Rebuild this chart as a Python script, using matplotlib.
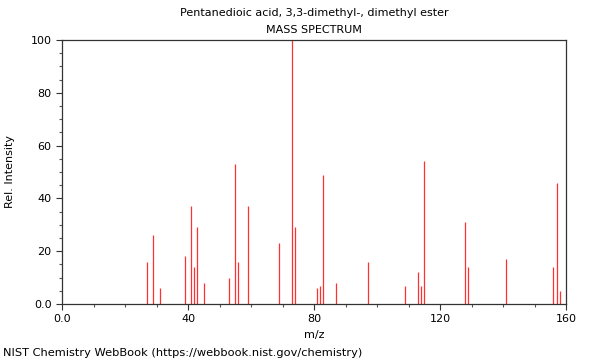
import numpy as np
import matplotlib
matplotlib.use('Agg')
import matplotlib.pyplot as plt
from matplotlib.ticker import MultipleLocator, FormatStrFormatter

# peaks
mz = [27, 29, 31, 39, 41, 42, 43, 45, 53, 55, 56, 59, 69, 73, 74,
      81, 82, 83, 87, 97, 109, 113, 114, 115, 128, 129, 141, 156, 157, 158]
intensity = [16, 26, 6, 18, 37, 14, 29, 8, 10, 53, 16, 37, 23, 100, 29,
             6, 7, 49, 8, 16, 7, 12, 7, 54, 31, 14, 17, 14, 46, 5]

title1 = 'Pentanedioic acid, 3,3-dimethyl-, dimethyl ester'
title2 = 'MASS SPECTRUM'
footer = 'NIST Chemistry WebBook (https://webbook.nist.gov/chemistry)'

fig = plt.figure(figsize=(6, 3.6), dpi=100)
ax = fig.add_axes([62/600, 56/360, 504/600, 264/360])

ax.vlines(mz, 0, intensity, color='#ff3030', linewidth=0.9)

ax.set_xlim(0, 160)
ax.set_ylim(0, 100)
ax.xaxis.set_major_locator(MultipleLocator(40))
ax.xaxis.set_minor_locator(MultipleLocator(10))
ax.yaxis.set_major_locator(MultipleLocator(20))
ax.yaxis.set_minor_locator(MultipleLocator(5))

def fmt(v, pos):
    return '0.0' if v == 0 else '%d' % v
ax.xaxis.set_major_formatter(fmt)
ax.yaxis.set_major_formatter(fmt)

ax.tick_params(axis='both', which='major', labelsize=8, length=4, width=0.8,
               color='#333333', direction='out')
ax.tick_params(axis='both', which='minor', length=2, width=0.8, color='#555555',
               direction='out')
for s in ax.spines.values():
    s.set_color('#333333')
    s.set_linewidth(0.9)

ax.set_xlabel('m/z', fontsize=8, labelpad=4)
ax.set_ylabel('Rel. Intensity', fontsize=8, labelpad=11)

fig.text(314/600, 1 - 13/360, title1, ha='center', va='center', fontsize=8)
fig.text(314/600, 1 - 30/360, title2, ha='center', va='center', fontsize=8)
fig.text(3/600, 7/360, footer, ha='left', va='center', fontsize=8.2)

fig.savefig('out.png', dpi=100)
